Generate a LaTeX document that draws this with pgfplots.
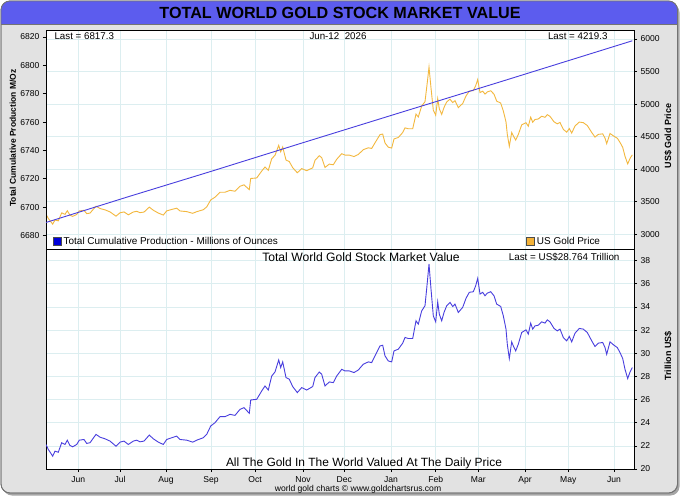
\documentclass[border=0pt]{standalone}
\usepackage{pgfplots}
\pgfplotsset{compat=1.18}
\usepackage{pgfplotstable}
\usepackage{fontspec}
\setmainfont{Liberation Sans}
\setsansfont{Liberation Sans}
\definecolor{goldc}{RGB}{243,184,62}
\definecolor{bluec}{RGB}{72,62,222}
\definecolor{gridc}{RGB}{220,238,240}
\definecolor{framebg}{RGB}{226,226,226}
\definecolor{titleblue}{RGB}{92,92,238}
\definecolor{titlepale}{RGB}{226,226,252}

\pgfplotstableread{
x v
46 22.12
48.3 21.69
52.7 21.11
55 21.54
58.3 21.45
61.7 22.27
65 22.12
67.3 22.49
70 22.03
72.7 21.92
76.7 22.12
79.3 22.49
84 22.55
86.7 22.21
90 22.27
96 22.99
100 22.75
105 22.61
110 22.41
116 21.97
120 22.32
124 22.41
128.3 22.12
133.3 22.41
136.7 22.49
140 22.35
144 22.41
149.3 22.93
153.3 22.61
158.3 22.32
163.3 22.12
166.7 22.55
171.7 22.70
176.7 22.84
180 22.55
186.7 22.49
192.7 22.32
196.7 22.49
203.3 22.70
206.7 22.99
210.7 23.71
215 24.00
220 24.52
225 24.52
230 24.72
235 24.63
240 25.15
244 25.30
249.3 24.81
250.7 25.96
256.7 26.02
261.7 26.74
265 27.17
268.3 26.82
271.7 28.03
275 28.38
278.7 29.42
280.7 28.76
282.7 29.25
286 27.90
289.3 27.75
292.7 27.12
297.3 26.60
301.7 27.03
306.7 26.82
312.7 27.12
315 27.90
319.3 28.38
321.7 28.18
325 27.17
329.3 27.52
333.3 27.46
336.7 28.03
341.7 28.61
345 28.47
349.3 28.47
354 28.33
358.3 28.55
363.3 29.05
368.3 29.25
371.7 29.19
375 29.77
380 30.63
382.7 30.69
385 29.77
388.3 29.33
391.7 29.25
394 30.20
398.3 30.35
402.7 30.87
405 31.36
408.3 31.27
412.7 31.27
416 32.80
418.3 32.51
421.7 33.66
425 34.10
427.3 36.12
429 37.71
431 35.54
433.3 33.23
435.7 32.71
437.7 34.44
439.3 33.38
441.7 32.80
444 33.52
446.7 34.10
450 34.39
452.7 34.04
455 34.24
458.3 33.52
462.7 33.96
466 34.74
469.3 35.26
473.3 35.31
475.7 35.83
477.7 36.47
480 35.11
482.7 35.26
485 34.96
487.3 35.19
490.7 35.31
494 34.96
496.7 34.24
500.7 34.04
503.3 33.23
506 32.08
507.3 30.78
509.3 29.54
511.7 30.98
513.3 30.63
515.7 30.20
518.3 30.78
521.7 31.79
526 32.02
528.3 31.65
530.7 32.60
532.7 32.08
535 32.36
538.3 32.42
541.7 32.71
545 32.60
547.3 32.88
550 32.71
554 32.14
557.3 31.93
560 32.08
563.3 31.36
566.7 31.07
569.3 31.45
571.7 30.98
575 31.73
579.3 32.14
583.3 32.08
587.3 31.79
591.7 31.07
595 30.58
598.3 30.87
602.7 30.93
605 30.49
606.7 29.91
610 30.98
614 30.69
617.3 30.49
620 30.06
622.7 29.54
625 28.61
627.7 27.81
630 28.38
632.3 28.764
}\valuetable

\pgfplotstableread{
x p
46 3307
48.3 3242
52.7 3155
55 3219
58.3 3205
61.7 3328
65 3305
67.3 3360
70 3291
72.7 3274
76.7 3303
79.3 3358
84 3367
86.7 3316
90 3324
96 3431
100 3395
105 3374
110 3343
116 3277
120 3329
124 3342
128.3 3298
133.3 3341
136.7 3352
140 3331
144 3340
149.3 3416
153.3 3368
158.3 3325
163.3 3294
166.7 3358
171.7 3380
176.7 3400
180 3357
186.7 3347
192.7 3321
196.7 3346
203.3 3376
206.7 3419
210.7 3526
215 3569
220 3645
225 3645
230 3674
235 3660
240 3737
244 3758
249.3 3685
250.7 3856
256.7 3864
261.7 3970
265 4033
268.3 3981
271.7 4160
275 4212
278.7 4365
280.7 4267
282.7 4340
286 4139
289.3 4116
292.7 4022
297.3 3944
301.7 4008
306.7 3976
312.7 4020
315 4135
319.3 4206
321.7 4176
325 4026
329.3 4077
333.3 4067
336.7 4151
341.7 4237
345 4216
349.3 4215
354 4193
358.3 4225
363.3 4299
368.3 4328
371.7 4318
375 4404
380 4530
382.7 4539
385 4402
388.3 4337
391.7 4324
394 4464
398.3 4486
402.7 4562
405 4634
408.3 4620
412.7 4620
416 4845
418.3 4802
421.7 4972
425 5036
427.3 5334
429 5569
431 5248
433.3 4906
435.7 4829
437.7 5084
439.3 4927
441.7 4841
444 4947
446.7 5032
450 5075
452.7 5023
455 5052
458.3 4945
462.7 5009
466 5124
469.3 5200
473.3 5207
475.7 5283
477.7 5377
480 5176
482.7 5198
485 5153
487.3 5187
490.7 5204
494 5152
496.7 5045
500.7 5015
503.3 4895
506 4725
507.3 4534
509.3 4351
511.7 4562
513.3 4511
515.7 4447
518.3 4532
521.7 4680
526 4713
528.3 4659
530.7 4798
532.7 4721
535 4762
538.3 4771
541.7 4813
545 4796
547.3 4837
550 4811
554 4727
557.3 4696
560 4717
563.3 4611
566.7 4568
569.3 4623
571.7 4554
575 4663
579.3 4723
583.3 4714
587.3 4670
591.7 4564
595 4492
598.3 4534
602.7 4542
605 4477
606.7 4391
610 4548
614 4505
617.3 4475
620 4411
622.7 4335
625 4198
627.7 4080
630 4164
632.3 4219.3
}\pricetable

\pgfplotstableread{
x m
46 6689.2
128 6707.3
210 6725.0
300 6744.8
400 6766.6
500 6788.3
632.3 6817.3
}\prodtable

\pgfplotsset{
  panel/.style={
    width=588bp, scale only axis,
    xmin=46, xmax=634,
    axis line style={black, line width=0.8pt},
    tick style={black, line width=0.6pt},
    tick align=outside,
    major tick length=3bp,
    grid style={gridc, line width=0.6pt},
    ticklabel style={font=\fontsize{8.6}{9}\selectfont},
    /pgf/number format/assume math mode=true,
    /pgf/number format/1000 sep={},
  },
  monthticks/.style={
    xtick={78.3,120,166,211,255,303,344.3,391,435.7,478.3,525,568.3,614},
  },
}

\begin{document}
\begin{tikzpicture}
\useasboundingbox (0,0) rectangle (680bp,-497bp);
% frame with shadow
\fill[rounded corners=9bp, black!35] (3bp,-3.5bp) rectangle (679.5bp,-495.5bp);
\fill[rounded corners=9bp, framebg, draw=black!55, line width=0.8pt] (1bp,-1bp) rectangle (677.5bp,-493bp);
\begin{scope}
\clip[rounded corners=9bp] (1bp,-1bp) rectangle (677.5bp,-493bp);
\shade[left color=titleblue, middle color=titlepale, right color=titleblue] (1bp,-1bp) rectangle (677.5bp,-24bp);
\end{scope}
\draw[rounded corners=9bp, draw=black!55, line width=0.8pt] (1bp,-1bp) rectangle (677.5bp,-493bp);
\draw[black!55, line width=0.8pt] (1bp,-24bp) -- (677.5bp,-24bp);
\node[font=\bfseries\fontsize{16.2}{17}\selectfont] at (340bp,-13bp) {TOTAL WORLD GOLD STOCK MARKET VALUE};

% ---------- top panel: gold price (right axis) ----------
\begin{axis}[panel, monthticks,
  at={(46bp,-249bp)}, anchor=south west, height=219bp,
  axis background/.style={fill=white},
  ymin=2772.4, ymax=6138,
  ytick={3000,3500,...,6000},
  xmajorgrids, ymajorgrids,
  xticklabels={}, xtick style={draw=none},
  ytick pos=right, yticklabel pos=right,
  legend style={draw=none, fill=none, at={(axis description cs:0.815,0.0)}, anchor=south west,
    font=\fontsize{10}{10}\selectfont, inner sep=1bp, row sep=0pt},
  legend image code/.code={\draw[fill=goldc!90!orange, draw=black!70, line width=0.5pt] (0bp,-3.8bp) rectangle (8bp,4.2bp);},
]
\addplot[goldc, line width=0.9pt] table[x=x, y=p] {\pricetable};
\addlegendentry{US Gold Price}
\end{axis}

% ---------- top panel: production (left axis) ----------
\begin{axis}[panel,
  at={(46bp,-249bp)}, anchor=south west, height=219bp,
  ymin=6670.5, ymax=6824.9,
  ytick={6680,6700,...,6820},
  xtick=\empty,
  ytick pos=left, yticklabel pos=left,
  legend style={draw=none, fill=none, at={(axis description cs:0.0,0.0)}, anchor=south west,
    font=\fontsize{10}{10}\selectfont, inner sep=1bp, row sep=0pt, xshift=6bp},
  legend image code/.code={\draw[fill=blue!85!black, draw=black!70, line width=0.5pt] (0bp,-3.8bp) rectangle (8bp,4.2bp);},
]
\addplot[bluec, line width=0.9pt] table[x=x, y=m] {\prodtable};
\addlegendentry{Total Cumulative Production - Millions of Ounces}
\end{axis}

% ---------- bottom panel ----------
\begin{axis}[panel, monthticks,
  at={(46bp,-469bp)}, anchor=south west, height=220bp,
  axis background/.style={fill=white},
  ymin=20, ymax=39,
  ytick={20,22,...,38},
  xmajorgrids, ymajorgrids,
  xticklabels={Jun,Jul,Aug,Sep,Oct,Nov,Dec,Jan,Feb,Mar,Apr,May,Jun},
  xtick pos=bottom,
  ytick pos=right, yticklabel pos=right,
  xticklabel style={font=\fontsize{8.6}{9}\selectfont, yshift=-1bp},
]
\addplot[bluec, line width=0.9pt] table[x=x, y=v] {\valuetable};
\end{axis}

% texts
\node[anchor=west, font=\fontsize{9.8}{10}\selectfont] at (51bp,-36.5bp) {Last = 6817.3};
\node[font=\fontsize{9.8}{10}\selectfont] at (338bp,-36.5bp) {Jun-12\ \ 2026};
\node[anchor=east, font=\fontsize{9.8}{10}\selectfont] at (611bp,-36.5bp) {Last = 4219.3};
\node[font=\fontsize{12.2}{13}\selectfont] at (361bp,-257.5bp) {Total World Gold Stock Market Value};
\node[anchor=east, font=\fontsize{9.9}{10}\selectfont] at (623bp,-257.5bp) {Last = US\$28.764 Trillion};
\node[font=\fontsize{12}{13}\selectfont] at (364bp,-463bp) {All The Gold In The World Valued At The Daily Price};
\node[rotate=90, font=\bfseries\fontsize{8.5}{10}\selectfont] at (13bp,-138bp) {Total Cumulative Production M/Oz};
\node[rotate=90, font=\bfseries\fontsize{9}{10}\selectfont] at (668bp,-136bp) {US\$ Gold Price};
\node[rotate=90, font=\bfseries\fontsize{9}{10}\selectfont] at (668bp,-356bp) {Trillion US\$};
\node[font=\fontsize{8.6}{9}\selectfont] at (358bp,-489bp) {world gold charts © www.goldchartsrus.com};
\end{tikzpicture}
\end{document}
